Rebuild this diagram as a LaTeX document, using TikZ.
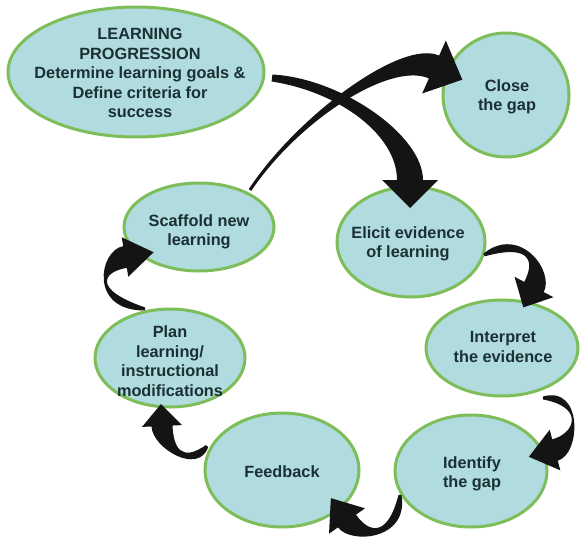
\documentclass[tikz,border=0pt]{standalone}
\usepackage{fontspec}
\setmainfont{Liberation Sans}
\usetikzlibrary{calc,shapes.geometric}
\definecolor{bubblefill}{HTML}{B0DCE0}
\definecolor{bubbleline}{HTML}{7DBD5A}
\definecolor{txtcol}{HTML}{1B3033}
% tapered curved arrow: P0, P1, P2, P3 (head base centre), half start width, half end width, half head width, head length, half width at P1
\newcommand\tarrow[9]{%
  \fill[arrowfill] ($(#1)!#5!90:(#2)$) .. controls ($(#2)!#9!-90:(#1)$) and ($(#3)!#6!90:(#4)$) .. ($(#4)!#6!-90:(#3)$)
    -- ($(#4)!#7!-90:(#3)$) -- ($(#4)!-#8!(#3)$) -- ($(#4)!#7!90:(#3)$) -- ($(#4)!#6!90:(#3)$)
    .. controls ($(#3)!#6!-90:(#4)$) and ($(#2)!#9!90:(#1)$) .. ($(#1)!#5!-90:(#2)$) -- cycle;}
\begin{document}
\begin{tikzpicture}[x=1pt,y=-1pt,
  bubble/.style={ellipse, draw=bubbleline, fill=bubblefill, line width=3pt, inner sep=0pt},
  btext/.style={text=txtcol, font=\bfseries\fontsize{16.3}{19.5}\selectfont, align=center, inner sep=0pt},
  arrowfill/.style={fill=black!92}]
\useasboundingbox (0,0) rectangle (581,544);
% bubbles
\node[bubble, minimum width=256pt, minimum height=130pt] (lp) at (136,72) {};
\node[bubble, minimum width=126pt, minimum height=124pt] (close) at (506,95) {};
\node[bubble, minimum width=150pt, minimum height=88pt] (scaffold) at (199,227) {};
\node[bubble, minimum width=148pt, minimum height=110pt] (elicit) at (411,242) {};
\node[bubble, minimum width=152pt, minimum height=96pt] (interpret) at (502,348) {};
\node[bubble, minimum width=150pt, minimum height=98pt] (plan) at (170,358) {};
\node[bubble, minimum width=154pt, minimum height=114pt] (feedback) at (282,470) {};
\node[bubble, minimum width=152pt, minimum height=112pt] (identify) at (471,471) {};
% texts
\node[btext] (lpt) at (140,73) {LEARNING\\PROGRESSION\\Determine learning goals \&\\Define criteria for\\success};
\node[btext] (closet) at (507,97) {Close\\the gap};
\node[btext] (scaffoldt) at (199,232) {Scaffold new\\learning};
\node[btext] (elicitt) at (408,244) {Elicit evidence\\of learning};
\node[btext] (interprett) at (503,347) {Interpret\\the evidence};
\node[btext] (plant) at (170,361) {Plan\\learning/\\instructional\\modifications};
\node[btext] (feedbackt) at (282,472) {Feedback};
\node[btext] (identifyt) at (472,474) {Identify\\the gap};
% arrows
\tarrow{272,78}{340,85}{410,135}{410,180}{3.5pt}{13pt}{28pt}{28pt}{7pt}
\tarrow{250,190}{298,118}{396,50}{434,67}{1.5pt}{12.5pt}{29pt}{31pt}{2pt}
\tarrow{484,255}{525,234}{545,266}{534,287}{1.5pt}{11pt}{22pt}{23pt}{11pt}
\tarrow{543,398}{584,396}{578,444}{555,450}{1.5pt}{11pt}{21pt}{27pt}{11pt}
\tarrow{400,495}{398,540}{359,538}{347,521}{1.5pt}{11pt}{22pt}{28pt}{11pt}
\tarrow{207,446}{190,469}{163,448}{162,426}{1.5pt}{10.5pt}{20pt}{22pt}{11pt}
\tarrow{145,309}{90,300}{101,261}{125,257}{1.5pt}{11pt}{20pt}{29pt}{11pt}
\end{tikzpicture}
\end{document}
